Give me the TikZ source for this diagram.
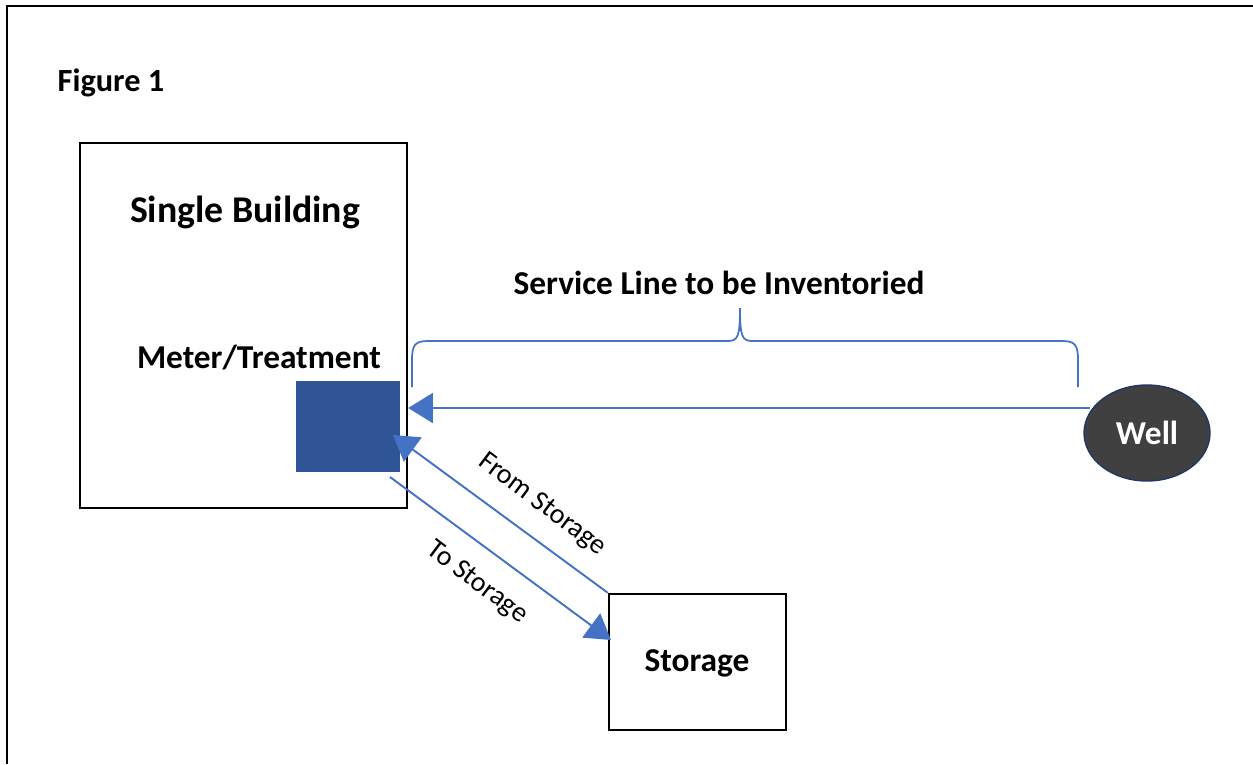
\documentclass[tikz,border=0pt]{standalone}
\usepackage{fontspec}
\setmainfont{Carlito}
\usetikzlibrary{arrows.meta,shapes.geometric}
\definecolor{lineblue}{HTML}{4472C4}
\definecolor{meterblue}{HTML}{2F5597}
\definecolor{welldark}{HTML}{404040}
\definecolor{wellrim}{HTML}{1F3864}
\begin{document}
\begin{tikzpicture}[x=0.02cm,y=-0.02cm,
  box/.style={draw=black,line width=1.4pt,fill=white,inner sep=0pt},
  flow/.style={draw=lineblue,line width=1.1pt,-{Triangle[length=14pt,width=17pt]}},
  lbl/.style={font=\bfseries\fontsize{19}{22}\selectfont,inner sep=0pt},
  tag/.style={font=\fontsize{16}{19}\selectfont,inner sep=0pt}]
\useasboundingbox (0,0) rectangle (1253,764);
% frame edges
\draw[line width=1.2pt] (7,764) -- (7,6) -- (1253,6);
\node[lbl,font=\bfseries\fontsize{18.4}{21}\selectfont] (fig) at (111,83) {Figure 1};
% building with meter
\node[box,minimum width=6.54cm,minimum height=7.3cm] (bldg) at (243.5,325.5) {};
\node[lbl,font=\bfseries\fontsize{21.5}{25}\selectfont] (bldgname) at (245,212) {Single Building};
\node[lbl] (metername) at (259,358) {Meter/Treatment};
\node[fill=meterblue,minimum width=2.08cm,minimum height=1.82cm,inner sep=0pt] (meter) at (348,426.5) {};
% storage and well
\node[box,minimum width=3.54cm,minimum height=2.72cm] (stor) at (697.5,662) {};
\node[lbl] (storname) at (697,663) {Storage};
\node[ellipse,fill=welldark,draw=wellrim,line width=0.8pt,minimum width=2.52cm,minimum height=1.92cm,inner sep=0pt,text=white,font=\bfseries\fontsize{19}{22}\selectfont] (well) at (1147,433) {Well};
% service line and its brace
\node[lbl] (svc) at (719,283) {Service Line to be Inventoried};
\draw[lineblue,line width=1pt] (412,387) -- (412,360) .. controls (412,345) and (415,341) .. (428,341)
  -- (728,341) .. controls (738,341) and (740,336) .. (740,308)
  .. controls (740,336) and (742,341) .. (752,341) -- (1062,341)
  .. controls (1075,341) and (1078,345) .. (1078,360) -- (1078,387);
\coordinate (wellout) at (1090,408);
\draw[flow] (wellout) -- (bldg.east |- wellout);
% storage loop
\coordinate (fromend) at (393,435);
\coordinate (tostart) at (390,477);
\coordinate (toend) at (611,640);
\draw[flow] (stor.north west) -- (fromend);
\draw[flow] (tostart) -- (toend);
\node[tag,rotate=-37] (fromlbl) at (542,505) {From Storage};
\node[tag,rotate=-37] (tolbl) at (477,583) {To Storage};
\end{tikzpicture}
\end{document}
